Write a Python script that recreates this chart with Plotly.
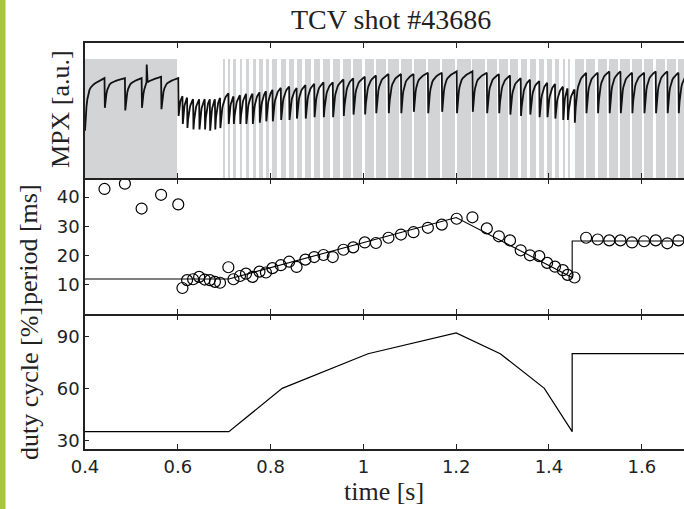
import numpy as np
import plotly.graph_objects as go

# ---------------- data ----------------
# sawtooth crash times [s] and measured period between crashes [ms]
crash_t = [0.442, 0.486, 0.522, 0.564, 0.601, 0.610, 0.620, 0.633, 0.646, 0.658,
           0.669, 0.680, 0.691, 0.709, 0.720, 0.734, 0.747, 0.761, 0.776, 0.790,
           0.804, 0.822, 0.840, 0.856, 0.875, 0.894, 0.914, 0.934, 0.957, 0.978,
           1.003, 1.027, 1.054, 1.081, 1.108, 1.139, 1.169, 1.201, 1.235, 1.266,
           1.292, 1.316, 1.339, 1.359, 1.379, 1.396, 1.413, 1.430, 1.440, 1.455,
           1.480, 1.505, 1.530, 1.554, 1.579, 1.605, 1.630, 1.655, 1.679]
period_ms = [42.8, 44.6, 36.1, 40.8, 37.5, 8.9, 11.6, 11.9, 12.7, 11.8,
             11.6, 11.0, 10.7, 16.0, 11.9, 13.0, 13.8, 12.7, 14.5, 14.2,
             15.7, 16.7, 17.9, 16.1, 18.6, 19.5, 20.2, 19.5, 22.0, 22.8,
             24.5, 24.3, 26.1, 27.2, 28.0, 29.5, 30.6, 32.6, 33.1, 29.3,
             26.6, 25.2, 21.8, 20.1, 19.8, 17.5, 16.2, 15.0, 13.4, 12.5,
             26.1, 25.5, 25.2, 25.2, 24.5, 24.9, 25.2, 24.2, 25.2]
# MPX level just before each crash and just after it [a.u.]
mpx_peak = [0.74, 0.74, 0.74, 0.75, 0.74, 0.61, 0.60, 0.59, 0.59, 0.59,
            0.59, 0.59, 0.60, 0.63, 0.61, 0.62, 0.63, 0.63, 0.64, 0.65,
            0.66, 0.67, 0.68, 0.67, 0.69, 0.70, 0.71, 0.71, 0.73, 0.74,
            0.75, 0.76, 0.77, 0.77, 0.77, 0.78, 0.78, 0.79, 0.79, 0.78,
            0.77, 0.76, 0.74, 0.73, 0.72, 0.71, 0.70, 0.68, 0.67, 0.66,
            0.78, 0.78, 0.79, 0.79, 0.78, 0.78, 0.79, 0.79, 0.78]
mpx_min = [0.52, 0.50, 0.52, 0.51, 0.46, 0.40, 0.37, 0.36, 0.36, 0.36,
           0.35, 0.36, 0.37, 0.40, 0.40, 0.40, 0.40, 0.40, 0.41, 0.42,
           0.42, 0.43, 0.43, 0.44, 0.44, 0.45, 0.45, 0.45, 0.46, 0.47,
           0.47, 0.48, 0.48, 0.48, 0.49, 0.48, 0.49, 0.48, 0.49, 0.48,
           0.48, 0.47, 0.46, 0.47, 0.45, 0.45, 0.44, 0.43, 0.43, 0.41,
           0.48, 0.48, 0.48, 0.48, 0.48, 0.48, 0.48, 0.48, 0.48]
mpx_start_t, mpx_start_v = 0.40, 0.35
spike_t, spike_v = [0.533], [0.84]

# programmed period [ms]
prog_t = [0.40, 0.71, 1.20, 1.45, 1.45, 1.70]
prog_period = [12, 12, 33, 12.5, 25, 25]

# programmed duty cycle [%]
duty_t = [0.40, 0.71, 0.825, 1.01, 1.20, 1.295, 1.39, 1.45, 1.45, 1.70]
duty_pct = [35, 35, 60, 80, 92, 80, 60, 35, 80, 80]

# actuator: continuous-on block, then modulation start
cw_start, cw_end = 0.40, 0.598
mod_start = 0.699
gray_top = 0.88

x_range = [0.40, 1.691]
xtick_vals = [0.4, 0.6, 0.8, 1.0, 1.2, 1.4, 1.6]
xtick_text = ["0.4", "0.6", "0.8", "1", "1.2", "1.4", "1.6"]
period_ticks = [10, 20, 30, 40]
duty_ticks = [30, 60, 90]

# ---------------- build MPX sawtooth from crash data ----------------
def recovery(t0, t1, m, p, n=16):
    P = t1 - t0
    tau = min(0.004, 0.3 * P)
    s = np.linspace(0, 1, n) ** 1.6
    tt = t0 + P * s
    d = tt - t0
    v = p - (p - m) * (0.8 * np.exp(-d / tau) + 0.2 * (1 - d / P))
    return list(tt), list(v)

mx, my = [], []
pt, pm = mpx_start_t, mpx_start_v
for tc, pk, mn in zip(crash_t, mpx_peak, mpx_min):
    tt, vv = recovery(pt, tc, pm, pk)
    mx += tt
    my += vv
    pt, pm = tc + 0.0008, mn
tt, vv = recovery(pt, crash_t[-1] + period_ms[-1] / 1000, pm, mpx_peak[-1])
mx += tt
my += vv
for st, sv in zip(spike_t, spike_v):
    i = int(np.searchsorted(mx, st))
    base = my[i]
    mx[i:i] = [st - 0.0005, st, st + 0.0005]
    my[i:i] = [base, sv, base]

# ---------------- actuator bars ----------------
bar_x = [(cw_start + cw_end) / 2]
bar_w = [cw_end - cw_start]
bounds = [mod_start] + [t for t in crash_t if t > mod_start] + [crash_t[-1] + period_ms[-1] / 1000]
for a, b in zip(bounds[:-1], bounds[1:]):
    d = float(np.interp(a, duty_t, duty_pct)) / 100
    on = d * (b - a)
    bar_x.append(a + on / 2)
    bar_w.append(on)

# ---------------- figure ----------------
ink = "#222222"
lw = 1.6
fig = go.Figure()
fig.add_trace(go.Bar(x=bar_x, y=[gray_top] * len(bar_x), width=bar_w,
                     marker=dict(color="#d3d4d6", line=dict(width=0)),
                     xaxis="x", yaxis="y", hoverinfo="skip"))
fig.add_trace(go.Scatter(x=mx, y=my, mode="lines", line=dict(color="#111111", width=1.8),
                         xaxis="x", yaxis="y"))
fig.add_trace(go.Scatter(x=prog_t, y=prog_period, mode="lines", line=dict(color="black", width=1.1),
                         xaxis="x2", yaxis="y2"))
fig.add_trace(go.Scatter(x=crash_t, y=period_ms, mode="markers",
                         marker=dict(symbol="circle-open", size=11, color="black", line=dict(width=1.2)),
                         xaxis="x2", yaxis="y2"))
fig.add_trace(go.Scatter(x=duty_t, y=duty_pct, mode="lines", line=dict(color="black", width=1.2),
                         xaxis="x3", yaxis="y3"))

tickfont = dict(family="DejaVu Sans", size=18, color=ink)
xcommon = dict(range=x_range, showline=True, linecolor=ink, linewidth=lw, mirror="ticks",
               ticks="inside", ticklen=5, tickwidth=1.2, tickcolor=ink,
               tickvals=xtick_vals, ticktext=xtick_text, showgrid=False, zeroline=False,
               tickfont=tickfont)
ycommon = dict(showline=True, linecolor=ink, linewidth=lw, ticks="inside", ticklen=4,
               tickwidth=1.2, tickcolor=ink, showgrid=False, zeroline=False, tickfont=tickfont)

H = 406.0
d_top = [0.6675, 1.0]
d_mid = [0.3325, 0.6675 - lw / H]
d_bot = [0.0, 0.3325 - lw / H]

fig.update_layout(
    width=684, height=509,
    margin=dict(l=85, r=0, t=43, b=60),
    paper_bgcolor="white", plot_bgcolor="white",
    showlegend=False,
    xaxis=dict(**xcommon, anchor="y", showticklabels=False),
    xaxis2=dict(**xcommon, anchor="y2", showticklabels=False),
    xaxis3=dict(**xcommon, anchor="y3", showticklabels=True, ticklabelstandoff=1),
    yaxis=dict(**{**ycommon, "ticks": ""}, domain=d_top, range=[0, 1], showticklabels=False, anchor="x"),
    yaxis2=dict(**ycommon, domain=d_mid, range=[0, 46], tickvals=period_ticks, anchor="x2"),
    yaxis3=dict(**ycommon, domain=d_bot, range=[25, 102], tickvals=duty_ticks, anchor="x3"),
    bargap=0,
)

serif = dict(family="Liberation Serif", size=26, color=ink)
def px_x(p):
    return (p - 85) / 599.0
def px_y(p):
    return (449 - p) / 406.0

annots = [
    dict(text="TCV shot #43686", x=px_x(391), y=px_y(20), textangle=0, font={**serif, "size": 28}),
    dict(text="time [s]", x=px_x(384), y=px_y(491), textangle=0, font=serif),
    dict(text="MPX [a.u.]", x=px_x(60), y=px_y(109), textangle=-90, font=serif),
    dict(text="period [ms]", x=px_x(29), y=px_y(245), textangle=-90, font=serif),
    dict(text="duty cycle [%]", x=px_x(29), y=px_y(384), textangle=-90, font=serif),
]
for a in annots:
    fig.add_annotation(xref="paper", yref="paper", showarrow=False, xanchor="center",
                       yanchor="middle", **a)

fig.add_shape(type="rect", xref="paper", yref="paper", x0=px_x(0), x1=px_x(5.5),
              y0=px_y(509), y1=px_y(0), fillcolor="#a8c53e", line=dict(width=0), layer="above")

fig.write_html("out.html", config={"displayModeBar": False},
               post_script="document.body.style.margin='0';document.body.style.overflow='hidden';")
